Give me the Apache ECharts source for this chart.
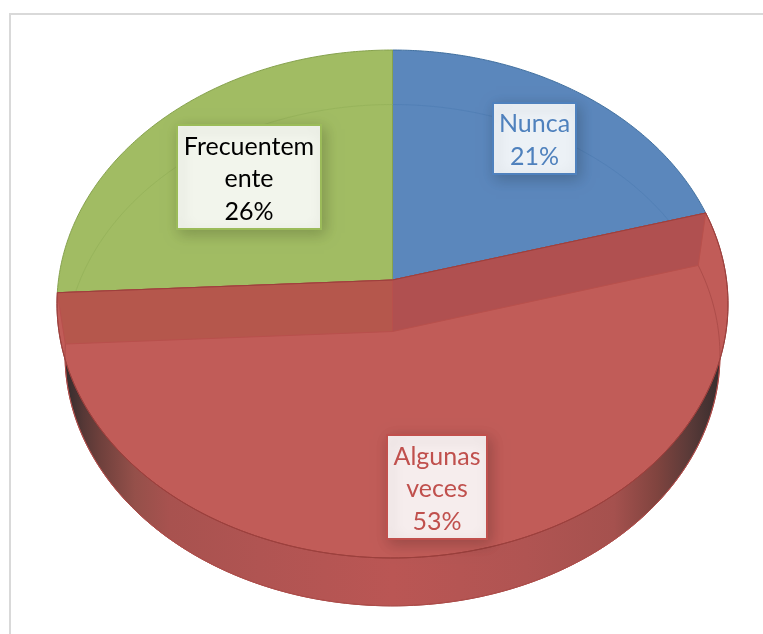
<!DOCTYPE html>
<html>
<head>
<meta charset="utf-8">
<style>html,body{margin:0;padding:0;background:#fff}#c{width:763px;height:634px}</style>
<script src="https://cdn.jsdelivr.net/npm/echarts@6/dist/echarts.min.js"></script>
</head>
<body>
<div id="c"></div>
<script>
// Data (slice sizes from the drawn angles, percent text from the labels)
const categories = ['Nunca', 'Algunas veces', 'Frecuentemente'];
const sliceValues = [20.6, 53.6, 25.8];
const percentLabels = ['21%', '53%', '26%'];
const wrappedNames = ['Nunca', 'Algunas\nveces', 'Frecuentem\nente'];

// Styles, one entry per category
const faceColors = ['#5b87bc', '#c15c58', '#a1bc63'];
const edgeColors = ['#41709f', '#9c403d', '#86a24e'];
const innerArcColors = ['#5280b6', '#ad4d4a', '#97b45b'];
const textColors = ['#4f81bd', '#c0504d', '#000000'];
const boxFills = ['#ecf1f6', '#f6eded', '#f2f5ec'];
const boxEdges = ['#4f81bd', '#c0504d', '#9bbb59'];
const boxes = [
  {x: 493, y: 103, w: 83, h: 71},
  {x: 387, y: 435, w: 100, h: 104},
  {x: 177, y: 125, w: 144, h: 104}
];
const bandColors = {right: '#b05050', left: '#b5574c'};

// Perspective disc geometry
const geo = {cx: 392.5, k: 0.0945, A: 251.7, B: 334, topY: 280, botY: 331.5, botSX: 0.976, botSY: 0.987};
const STEPS = 160;
const total = sliceValues.reduce((a, b) => a + b, 0);

function project(theta, face) {
  const u = Math.sin(theta), v = -Math.cos(theta), d = 1 - geo.k * v;
  const sx = face === 'top' ? 1 : geo.botSX, sy = face === 'top' ? 1 : geo.botSY;
  const cy = face === 'top' ? geo.topY : geo.botY;
  return [geo.cx + geo.B * sx * u / d, cy + geo.A * sy * v / d];
}
function arc(a0, a1, face) {
  const pts = [];
  for (let i = 0; i <= STEPS; i++) pts.push(project(a0 + (a1 - a0) * i / STEPS, face));
  return pts;
}
const wallFill = {
  type: 'linear', global: true, x: 57, y: 0, x2: 728, y2: 0,
  colorStops: [
    {offset: 0.00, color: '#2f2a2a'}, {offset: 0.02, color: '#3d2f2f'},
    {offset: 0.04, color: '#573836'}, {offset: 0.064, color: '#6e403c'},
    {offset: 0.116, color: '#95504a'}, {offset: 0.168, color: '#a8524f'},
    {offset: 0.30, color: '#b05452'}, {offset: 0.50, color: '#ba5654'},
    {offset: 0.70, color: '#b05452'}, {offset: 0.83, color: '#a5514e'},
    {offset: 0.894, color: '#80443f'}, {offset: 0.943, color: '#5a3a38'},
    {offset: 0.98, color: '#3d2f2f'}, {offset: 1.00, color: '#2f2a2a'}
  ]
};

function renderItem(params, api) {
  const i = params.dataIndex;
  const before = sliceValues.slice(0, i).reduce((a, b) => a + b, 0);
  const a0 = before / total * 2 * Math.PI;
  const a1 = a0 + api.value(0) / total * 2 * Math.PI;
  const apexTop = [geo.cx, geo.topY], apexBot = [geo.cx, geo.botY];
  const isFront = categories[i] === 'Algunas veces';
  const kids = [];
  const faceZ = isFront ? 30 : 10;

  if (isFront) {
    kids.push({type: 'polygon', z2: 1, silent: true,
      shape: {points: [apexBot].concat(arc(a0, a1, 'bot'))},
      style: {fill: wallFill, stroke: '#a94643', lineWidth: 1}});
  }
  kids.push({type: 'polygon', z2: faceZ, silent: true,
    shape: {points: [apexTop].concat(arc(a0, a1, 'top'))},
    style: {fill: faceColors[i], stroke: edgeColors[i], lineWidth: 1}});
  kids.push({type: 'polyline', z2: isFront ? 31 : 20, silent: true,
    shape: {points: arc(a0, a1, 'bot')},
    style: {fill: 'none', stroke: innerArcColors[i], lineWidth: 1}});

  if (isFront) {
    // inner faces of the front slice, seen through its translucent top
    const tStart = project(a0, 'top'), bStart = project(a0, 'bot');
    const tEnd = project(a1, 'top'), bEnd = project(a1, 'bot');
    kids.push({type: 'polygon', z2: 32, silent: true,
      shape: {points: [apexTop, tStart, bStart, apexBot]},
      style: {fill: bandColors.right, stroke: '#b8504c', lineWidth: 1}});
    kids.push({type: 'polygon', z2: 32, silent: true,
      shape: {points: [apexTop, tEnd, bEnd, apexBot]},
      style: {fill: bandColors.left, stroke: '#b8504c', lineWidth: 1}});
    kids.push({type: 'polyline', z2: 33, silent: true,
      shape: {points: [tEnd, apexTop, tStart]},
      style: {fill: 'none', stroke: '#9c3f3c', lineWidth: 1}});
    kids.push({type: 'polyline', z2: 33, silent: true,
      shape: {points: arc(a0, a1, 'top')},
      style: {fill: 'none', stroke: '#9c403d', lineWidth: 1}});
  }

  const b = boxes[i];
  kids.push({type: 'rect', z2: 50, silent: true,
    shape: {x: b.x, y: b.y, width: b.w, height: b.h},
    style: {fill: boxFills[i], stroke: boxEdges[i], lineWidth: 2,
      shadowBlur: 14, shadowColor: 'rgba(0,0,0,0.2)', shadowOffsetX: 3, shadowOffsetY: 4}});
  kids.push({type: 'text', z2: 51, silent: true,
    x: b.x + b.w / 2, y: b.y + b.h / 2 + 2,
    style: {text: wrappedNames[i] + '\n' + percentLabels[i], font: '25px Lato, Carlito, sans-serif',
      fill: textColors[i], align: 'center', verticalAlign: 'middle', lineHeight: 32.5}});
  return {type: 'group', children: kids};
}

const chart = echarts.init(document.getElementById('c'), null, {renderer: 'canvas'});
chart.setOption({
  animation: false,
  backgroundColor: '#ffffff',
  graphic: [{type: 'rect', z: -1, silent: true,
    shape: {x: 10, y: 14, width: 800, height: 700},
    style: {fill: '#ffffff', stroke: '#d9d9d9', lineWidth: 2}}],
  series: [{
    type: 'custom',
    coordinateSystem: 'none',
    renderItem,
    data: categories.map((name, i) => ({name, value: [sliceValues[i]]}))
  }]
});
</script>
</body>
</html>
